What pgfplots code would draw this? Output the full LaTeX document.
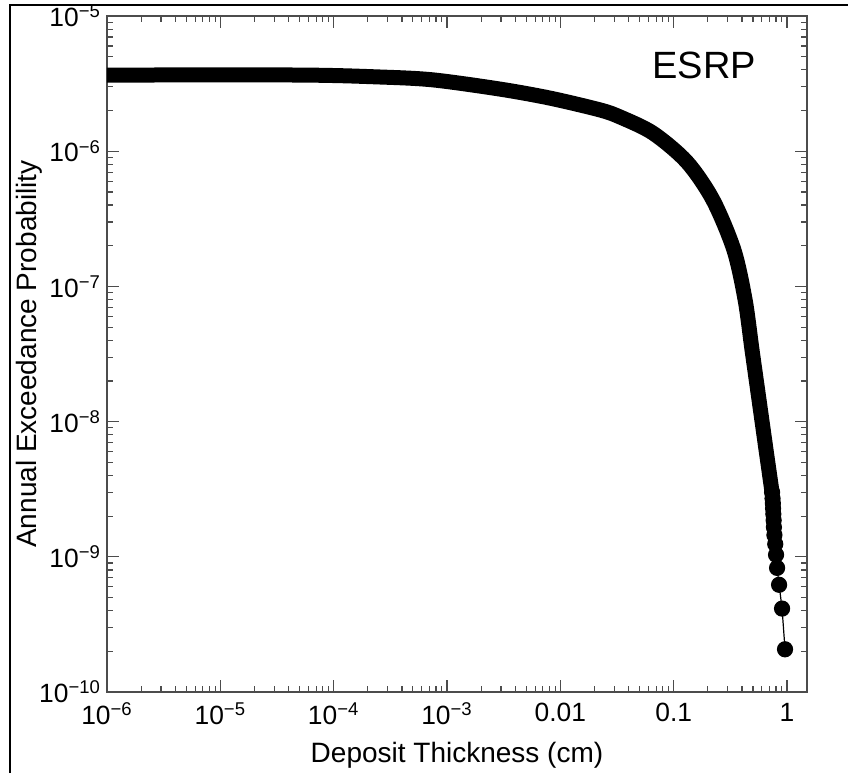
\documentclass[border=0pt]{standalone}
\usepackage{fontspec}
\setmainfont{Liberation Sans}
\usepackage{pgfplots}
\pgfplotsset{compat=1.18}
\newcommand{\tp}[1]{10\textsuperscript{−#1}}
\begin{document}
\begin{tikzpicture}
\useasboundingbox (0,0) rectangle (424pt,386.5pt);
\draw[line width=1.3pt] (5pt,0) -- (5pt,384pt) -- (430pt,384pt);
\begin{axis}[
  at={(53.5pt,40.5pt)}, anchor=south west,
  scale only axis, width=350pt, height=338pt,
  xmode=log, ymode=log,
  xmin=1e-6, xmax=1.5, ymin=1e-10, ymax=1e-5,
  axis line style={black!70, line width=0.7pt},
  every tick/.style={black!70, line width=0.6pt},
  tick align=inside,
  major tick length=6pt, minor tick length=3pt,
  xtick={1e-6,1e-5,1e-4,1e-3,0.01,0.1,1},
  xticklabels={\tp{6},\tp{5},\tp{4},\tp{3},0.01,0.1,1},
  ytick={1e-10,1e-9,1e-8,1e-7,1e-6,1e-5},
  yticklabels={\tp{10},\tp{9},\tp{8},\tp{7},\tp{6},\tp{5}},
  tick label style={font=\fontsize{13.2}{15}\selectfont},
  xticklabel style={yshift=-2pt},
  yticklabel style={xshift=0.5pt},
  xlabel={Deposit Thickness (cm)},
  ylabel={Annual Exceedance Probability},
  label style={font=\fontsize{14}{16}\selectfont},
  xlabel style={at={(axis description cs:0.5,-0.1036)}, anchor=base},
  ylabel style={at={(axis description cs:-0.1,0.5)}, anchor=base, rotate=0},
]
% dense part of the series (markers merge into a band)
\addplot[black, line width=7.5pt, line cap=round, line join=round, smooth, tension=0.5] coordinates {
(1e-7,3.66e-6) (1e-6,3.66e-6) (5.05e-5,3.66e-6) (2.56e-4,3.54e-6) (7.53e-4,3.37e-6)
(2.94e-3,2.88e-6) (8.11e-3,2.47e-6) (0.0224,2.02e-6) (0.0337,1.79e-6) (0.0658,1.36e-6)
(0.131,8.32e-7) (0.222,4.36e-7) (0.340,1.86e-7) (0.427,7.93e-8) (0.491,3.39e-8)
(0.566,1.45e-8) (0.653,6.17e-9) (0.738,3.0e-9)
};
% sparse tail, individual points
\addplot[black, line width=0.6pt, mark=*, mark size=3.75pt] coordinates {
(0.738,3.0e-9) (0.745,2.7e-9) (0.750,2.484e-9) (0.753,2.277e-9) (0.757,2.07e-9) (0.762,1.863e-9)
(0.766,1.656e-9) (0.774,1.449e-9) (0.787,1.242e-9) (0.800,1.035e-9) (0.817,8.28e-10)
(0.851,6.21e-10) (0.904,4.14e-10) (0.960,2.07e-10)
};
\node[font=\fontsize{19}{22}\selectfont, anchor=base] at (axis description cs:0.853,0.907) {ESRP};
\end{axis}
\end{tikzpicture}
\end{document}
